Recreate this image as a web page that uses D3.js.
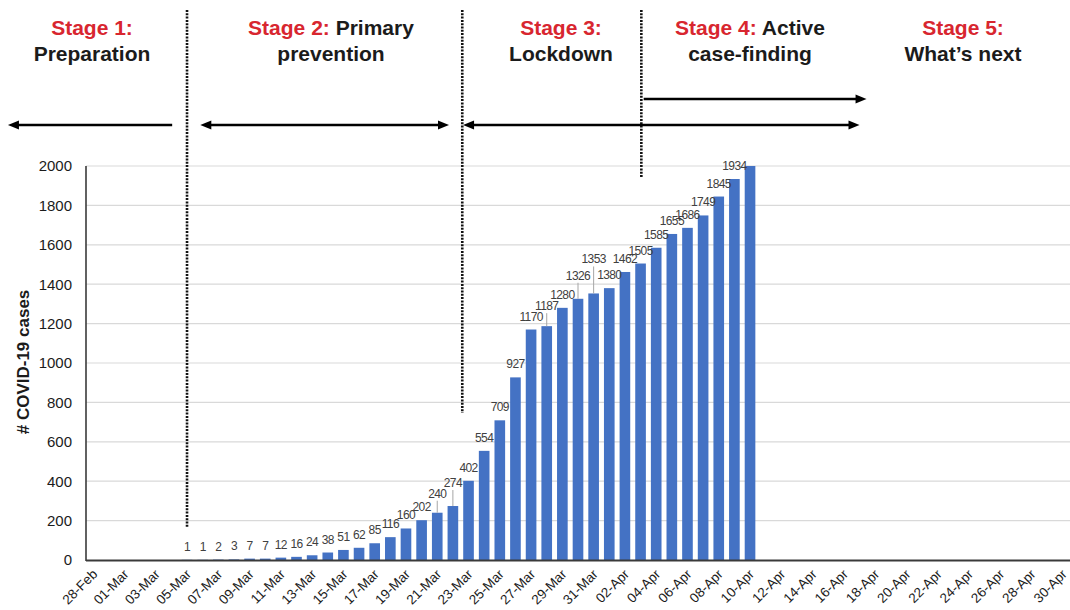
<!DOCTYPE html>
<html><head><meta charset="utf-8">
<script src="https://cdn.jsdelivr.net/npm/d3@7"></script>
<style>body{margin:0;background:#fff}svg{display:block;font-family:"Liberation Sans",Arial,sans-serif}</style>
</head><body><svg id="c" width="1070" height="610"></svg>
<script>
// ---------- data ----------
const dates = ["28-Feb","29-Feb","01-Mar","02-Mar","03-Mar","04-Mar","05-Mar","06-Mar","07-Mar","08-Mar","09-Mar","10-Mar","11-Mar","12-Mar","13-Mar","14-Mar","15-Mar","16-Mar","17-Mar","18-Mar","19-Mar","20-Mar","21-Mar","22-Mar","23-Mar","24-Mar","25-Mar","26-Mar","27-Mar","28-Mar","29-Mar","30-Mar","31-Mar","01-Apr","02-Apr","03-Apr","04-Apr","05-Apr","06-Apr","07-Apr","08-Apr","09-Apr","10-Apr","11-Apr","12-Apr","13-Apr","14-Apr","15-Apr","16-Apr","17-Apr","18-Apr","19-Apr","20-Apr","21-Apr","22-Apr","23-Apr","24-Apr","25-Apr","26-Apr","27-Apr","28-Apr","29-Apr","30-Apr"];
const tickLabels = ["28-Feb","01-Mar","03-Mar","05-Mar","07-Mar","09-Mar","11-Mar","13-Mar","15-Mar","17-Mar","19-Mar","21-Mar","23-Mar","25-Mar","27-Mar","29-Mar","31-Mar","02-Apr","04-Apr","06-Apr","08-Apr","10-Apr","12-Apr","14-Apr","16-Apr","18-Apr","20-Apr","22-Apr","24-Apr","26-Apr","28-Apr","30-Apr"];
const barStart = "05-Mar";
const cases = [1,1,2,3,7,7,12,16,24,38,51,62,85,116,160,202,240,274,402,554,709,927,1170,1187,1280,1326,1353,1380,1462,1505,1585,1655,1686,1749,1845,1934,2031];
const yTicks = [0,200,400,600,800,1000,1200,1400,1600,1800,2000];
const yMax = 2000;
const stageHeads = ["Stage 1:","Stage 2:","Stage 3:","Stage 4:","Stage 5:"];
const stageHeadRest = [""," Primary",""," Active",""];
const stageSecond = ["Preparation","prevention","Lockdown","case-finding","What\u2019s next"];
// stage boundaries (day index from 28-Feb) and how far down (case value) the dotted line reaches
const boundaryDays = [6, 23.6, 35.05];
const boundaryEnds = [162, 746, 1944];
// arrows in day units
const arrowFrom = [-5.45, 6.85, 23.65, 35.2];
const arrowTo = [5.05, 22.75, 49.0, 49.45];
const arrowLeftHead = [true, true, true, false];
const arrowRightHead = [false, true, true, true];
const arrowRow = [0, 0, 0, 1];

// ---------- layout ----------
const svg = d3.select("#c");
const L = 86, R = 1070, T = 166, B = 560;
const red = "#d8262f", ink = "#1b1b1b";

const x = d3.scaleBand().domain(dates).range([L, R]).paddingInner(0.32).paddingOuter(0.12);
const y = d3.scaleLinear().domain([0, yMax]).range([B, T]).clamp(true);
const dayX = d3.scaleLinear().domain([0, dates.length - 1])
  .range([x(dates[0]) + x.bandwidth() / 2, x(dates[dates.length - 1]) + x.bandwidth() / 2]);

const data = cases.map((v, i) => ({date: dates[dates.indexOf(barStart) + i], v}));

// gridlines
svg.append("g").selectAll("line").data(yTicks.filter(d => d > 0)).join("line")
  .attr("x1", L).attr("x2", R).attr("y1", d => y(d)).attr("y2", d => y(d))
  .attr("stroke", "#d9d9d9").attr("stroke-width", 1.2);

// bars
svg.append("g").selectAll("rect").data(data).join("rect")
  .attr("x", d => x(d.date)).attr("width", x.bandwidth())
  .attr("y", d => y(d.v)).attr("height", d => B - y(d.v))
  .attr("fill", "#4472c4");

// value labels (with small leader lines where they were moved up)
const lift = {240: 6, 274: 10, 1187: 7, 1326: 10, 1353: 21};
const lab = svg.append("g").attr("font-size", 12).attr("fill", "#404040").attr("text-anchor", "middle");
data.filter(d => d.v <= yMax).forEach(d => {
  const cx = x(d.date) + x.bandwidth() / 2;
  const up = lift[d.v] || 0;
  if (up) lab.append("line").attr("x1", cx).attr("x2", cx).attr("y1", y(d.v)).attr("y2", y(d.v) - up - 6)
    .attr("stroke", "#a6a6a6").attr("stroke-width", 1);
  lab.append("text").attr("x", cx).attr("y", y(d.v) - 9 - up).attr("letter-spacing", -0.6).text(d.v);
});

// axes
const ya = svg.append("g").attr("transform", `translate(${L},0)`)
  .call(d3.axisLeft(y).tickValues(yTicks).tickFormat(d3.format("d")).tickSize(0).tickPadding(14));
ya.select(".domain").remove();
ya.selectAll("text").attr("font-size", 15).attr("fill", ink).attr("font-family", "Liberation Sans, Arial, sans-serif");

const xa = svg.append("g").attr("transform", `translate(0,${B})`)
  .call(d3.axisBottom(x).tickValues(tickLabels).tickSize(0));
xa.select(".domain").remove();
xa.selectAll("text").attr("font-size", 13.5).attr("fill", ink).attr("font-family", "Liberation Sans, Arial, sans-serif")
  .attr("text-anchor", "end").attr("dy", 0).attr("y", 0)
  .attr("transform", "translate(5,15) rotate(-45)");

svg.append("line").attr("x1", L).attr("x2", L).attr("y1", T).attr("y2", B + 1)
  .attr("stroke", "#3a3a3a").attr("stroke-width", 1.6);
svg.append("line").attr("x1", L).attr("x2", R).attr("y1", B + 0.5).attr("y2", B + 0.5)
  .attr("stroke", "#3a3a3a").attr("stroke-width", 1.8);

// y title
svg.append("text").attr("transform", `translate(29,${(T + B) / 2 - 1}) rotate(-90)`)
  .attr("text-anchor", "middle").attr("font-weight", "bold").attr("font-size", 17).attr("fill", ink)
  .text("# COVID-19 cases");

// dotted stage boundaries
svg.append("g").selectAll("line").data(boundaryDays).join("line")
  .attr("x1", d => dayX(d)).attr("x2", d => dayX(d))
  .attr("y1", 10).attr("y2", (d, i) => y(boundaryEnds[i]))
  .attr("stroke", "#111").attr("stroke-width", 2.6).attr("stroke-dasharray", "2,1.3");

// arrows
const rowY = [125, 99];
const ag = svg.append("g");
arrowFrom.forEach((f, i) => {
  const x1 = dayX(f), x2 = dayX(arrowTo[i]), yy = rowY[arrowRow[i]];
  const hl = 11, hw = 4.5;
  ag.append("line").attr("x1", x1 + (arrowLeftHead[i] ? hl - 2 : 0)).attr("x2", x2 - (arrowRightHead[i] ? hl - 2 : 0))
    .attr("y1", yy).attr("y2", yy).attr("stroke", "#000").attr("stroke-width", 2.6);
  if (arrowLeftHead[i]) ag.append("path").attr("d", `M${x1},${yy}L${x1 + hl},${yy - hw}L${x1 + hl},${yy + hw}Z`).attr("fill", "#000");
  if (arrowRightHead[i]) ag.append("path").attr("d", `M${x2},${yy}L${x2 - hl},${yy - hw}L${x2 - hl},${yy + hw}Z`).attr("fill", "#000");
});

// stage headers
const headX = [92, 331, 561, 750, 963];
const hg = svg.append("g").attr("font-weight", "bold").attr("font-size", 21).attr("text-anchor", "middle");
stageHeads.forEach((h, i) => {
  const t = hg.append("text").attr("x", headX[i]).attr("y", 35);
  t.append("tspan").attr("fill", red).text(h);
  if (stageHeadRest[i]) t.append("tspan").attr("fill", ink).text(stageHeadRest[i]);
  hg.append("text").attr("x", headX[i]).attr("y", 61).attr("fill", ink).text(stageSecond[i]);
});
</script></body></html>
